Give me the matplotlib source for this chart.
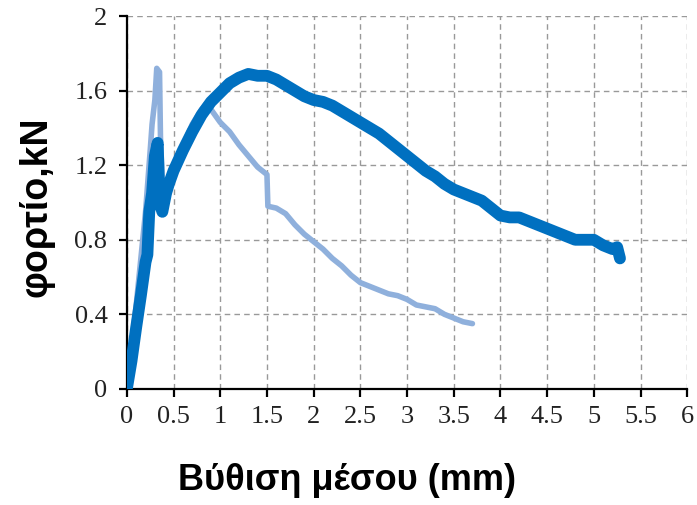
import matplotlib
matplotlib.use("Agg")
import matplotlib.pyplot as plt

plt.rcParams["font.family"] = ["Liberation Serif", "DejaVu Serif"]
plt.rcParams["xtick.labelsize"] = 19
plt.rcParams["ytick.labelsize"] = 19

# dark series (thick)
dark_x = [0, 0.05, 0.1, 0.15, 0.2, 0.22, 0.24, 0.27, 0.3, 0.33, 0.35, 0.38, 0.42, 0.45,
          0.5, 0.6, 0.7, 0.8, 0.9, 1.0, 1.1, 1.2, 1.3, 1.4, 1.5, 1.6, 1.7, 1.8, 1.9,
          2.0, 2.1, 2.2, 2.3, 2.4, 2.5, 2.6, 2.7, 2.8, 2.9, 3.0, 3.1, 3.2, 3.3, 3.4,
          3.5, 3.6, 3.7, 3.8, 3.9, 4.0, 4.1, 4.2, 4.3, 4.4, 4.5, 4.6, 4.7, 4.8, 4.9,
          5.0, 5.1, 5.2, 5.25, 5.28]
dark_y = [0, 0.15, 0.33, 0.50, 0.68, 0.72, 0.95, 1.05, 1.25, 1.32, 1.0, 0.95, 1.05, 1.1,
          1.17, 1.28, 1.38, 1.47, 1.54, 1.59, 1.64, 1.67, 1.69, 1.68, 1.68, 1.66, 1.63, 1.60, 1.57,
          1.55, 1.54, 1.52, 1.49, 1.46, 1.43, 1.40, 1.37, 1.33, 1.29, 1.25, 1.21, 1.17, 1.14, 1.10,
          1.07, 1.05, 1.03, 1.01, 0.97, 0.93, 0.92, 0.92, 0.90, 0.88, 0.86, 0.84, 0.82, 0.80, 0.80,
          0.80, 0.77, 0.75, 0.76, 0.70]

# light series (thin)
light_x = [0, 0.1, 0.2, 0.25, 0.27, 0.3, 0.32, 0.35, 0.36, 0.38, 0.4, 0.45, 0.5, 0.6, 0.7,
           0.8, 0.85, 0.9, 1.0, 1.1, 1.2, 1.3, 1.4, 1.5, 1.51, 1.6, 1.7, 1.8, 1.9, 2.0,
           2.1, 2.2, 2.3, 2.4, 2.5, 2.6, 2.7, 2.8, 2.9, 3.0, 3.1, 3.2, 3.3, 3.4, 3.5, 3.6, 3.7]
light_y = [0, 0.45, 0.95, 1.28, 1.42, 1.55, 1.72, 1.70, 1.35, 1.1, 1.0, 1.05, 1.15, 1.30, 1.42,
           1.50, 1.53, 1.50, 1.43, 1.38, 1.31, 1.25, 1.19, 1.15, 0.98, 0.97, 0.94, 0.88, 0.83, 0.79,
           0.75, 0.70, 0.66, 0.61, 0.57, 0.55, 0.53, 0.51, 0.50, 0.48, 0.45, 0.44, 0.43, 0.40, 0.38, 0.36, 0.35]

xticks = [0, 0.5, 1, 1.5, 2, 2.5, 3, 3.5, 4, 4.5, 5, 5.5, 6]
xlabels = ["0", "0.5", "1", "1.5", "2", "2.5", "3", "3.5", "4", "4.5", "5", "5.5", "6"]
yticks = [0, 0.4, 0.8, 1.2, 1.6, 2]
ylabels = ["0", "0.4", "0.8", "1.2", "1.6", "2"]

fig = plt.figure(figsize=(6.97, 5.05), dpi=100)
ax = fig.add_axes([0.182, 0.230, 0.804, 0.738])

ax.plot(light_x, light_y, color="#8FB0DC", lw=4, solid_joinstyle="round", solid_capstyle="round", zorder=3)
ax.plot(dark_x, dark_y, color="#0070C0", lw=8.5, solid_joinstyle="round", solid_capstyle="round", zorder=4)

ax.set_xlim(0, 6)
ax.set_ylim(0, 2)
ax.set_xticks(xticks, xlabels, fontsize=19)
ax.set_yticks(yticks, ylabels, fontsize=19)

ax.grid(True, ls=(0, (4, 3)), color="#999999", lw=1)
ax.set_axisbelow(True)
ax.spines["top"].set_visible(False)
ax.spines["right"].set_visible(False)
ax.spines["left"].set_linewidth(1.6)
ax.spines["bottom"].set_linewidth(1.6)
ax.tick_params(axis="both", direction="out", length=6, width=1.6, labelcolor="#222222")
ax.tick_params(axis="y", pad=8)
ax.tick_params(axis="x", pad=6)

fig.text(0.498, 0.048, "Βύθιση μέσου (mm)", ha="center", va="center",
         fontsize=26, fontweight="bold", family="Liberation Sans")
fig.text(0.052, 0.59, "φορτίο,kN", ha="center", va="center", rotation=90,
         fontsize=27, fontweight="bold", family="Liberation Sans")

fig.savefig("out.png", dpi=100)
